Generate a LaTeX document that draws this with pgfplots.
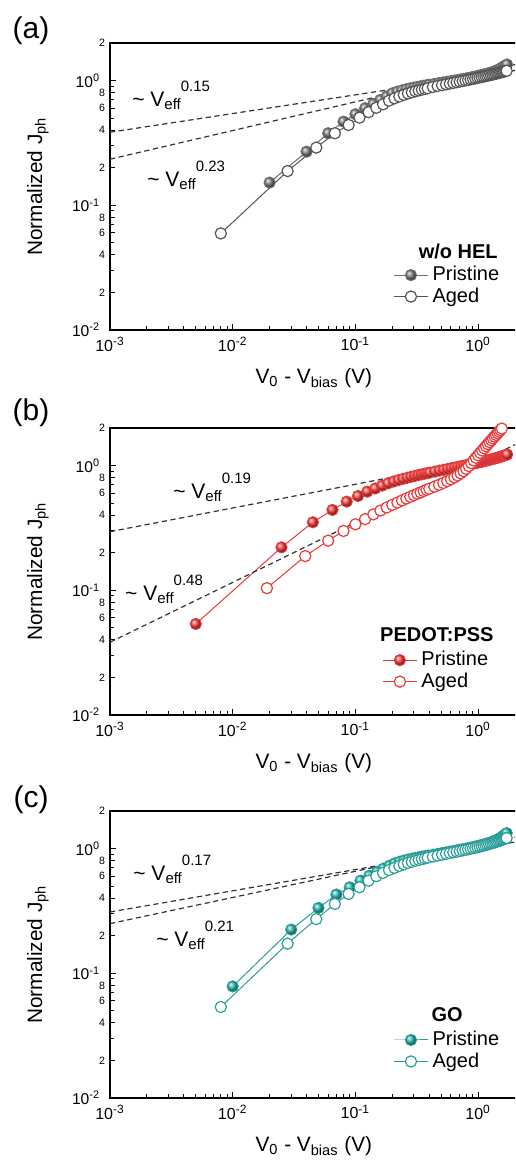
\documentclass[border=0pt]{standalone}
\usepackage{fontspec}
\setmainfont{Liberation Sans}
\usepackage{pgfplots}
\pgfplotsset{compat=1.18}

\definecolor{grayline}{HTML}{6E6E6E}
\definecolor{grayaged}{HTML}{555555}
\definecolor{redline}{HTML}{E83A3A}
\definecolor{redball}{HTML}{FF4040}
\definecolor{tealline}{HTML}{2A9E99}
\definecolor{tealball}{HTML}{33BDB5}
\definecolor{fitgray}{HTML}{333333}

% ~ V_eff^{n}, exponent set high after the subscript
\newcommand\veff[1]{\textasciitilde\ V\raisebox{-1.6pt}{\fontsize{7.5}{8}\selectfont eff}\raisebox{7.4pt}{\fontsize{7.5}{8}\selectfont #1}}

\pgfplotsset{every axis/.append style={
    scale only axis, width=205.06pt, height=143.5pt,
    anchor=north west,
    xmin=0.001, xmax=2.2, ymin=0.01, ymax=2,
    axis line style={line width=0.9pt},
    tick pos=left, tick align=inside,
    major tick length=3pt, minor tick length=1.8pt,
    every tick/.style={black, line width=0.5pt},
    xtick={0.001,0.01,0.1,1},
    xticklabels={10\textsuperscript{-3},10\textsuperscript{-2},10\textsuperscript{-1},10\textsuperscript{0}},
    minor xtick={0.002,0.003,0.004,0.005,0.006,0.007,0.008,0.009,
                 0.02,0.03,0.04,0.05,0.06,0.07,0.08,0.09,
                 0.2,0.3,0.4,0.5,0.6,0.7,0.8,0.9},
    ytick={0.01,0.1,1},
    yticklabels={10\textsuperscript{-2},10\textsuperscript{-1},10\textsuperscript{0}},
    minor ytick={0.03,0.05,0.07,0.09,0.3,0.5,0.7,0.9},
    extra y ticks={0.02,0.04,0.06,0.08,0.2,0.4,0.6,0.8,2},
    extra y tick labels={2,4,6,8,2,4,6,8,2},
    extra y tick style={major tick length=2.3pt,
      yticklabel style={font=\fontsize{5.3}{6}\selectfont, xshift=2.4pt}},
    xticklabel style={font=\fontsize{8}{9}\selectfont},
    yticklabel style={font=\fontsize{7.8}{9}\selectfont, xshift=-1.4pt},
    xlabel={V\textsubscript{0} - V\textsubscript{bias} (V)},
    ylabel={Normalized J\textsubscript{ph}},
    every axis x label/.style={at={(axis description cs:0.497,0)}, anchor=center,
      yshift=-24pt, font=\fontsize{10.4}{12}\selectfont},
    every axis y label/.style={at={(axis description cs:-0.176,0.5)}, anchor=center,
      rotate=90, font=\fontsize{10.4}{12}\selectfont},
    legend style={draw=none, fill=none, anchor=north west, inner sep=0pt,
      row sep=-2pt, font=\fontsize{10}{12}\selectfont},
    legend cell align=left,
}}

\begin{document}
\begin{tikzpicture}
\useasboundingbox (0,0) rectangle (257.5pt,-580.5pt);
\clip (0,0) rectangle (257.5pt,-580.5pt);

\node[font=\fontsize{15}{17}\selectfont] at (15.5pt,-15.5pt) {(a)};
\node[font=\fontsize{15}{17}\selectfont] at (15.5pt,-206.5pt) {(b)};
\node[font=\fontsize{15}{17}\selectfont] at (15.5pt,-400pt) {(c)};

% ---------------- (a) w/o HEL ----------------
\begin{loglogaxis}[at={(55pt,-21.5pt)},
  legend style={at={(axis description cs:0.690,0.237)}}]
\addplot[color=grayline, line width=0.5pt, mark=ball, mark size=2.8pt,
  mark options={ball color=gray}] table {
x y
0.02 0.152
0.04 0.269
0.06 0.378
0.08 0.468
0.10 0.537
0.12 0.600
0.14 0.650
0.16 0.700
0.18 0.745
0.20 0.790
0.22 0.815
0.24 0.835
0.26 0.852
0.28 0.866
0.30 0.878
0.32 0.889
0.34 0.899
0.36 0.908
0.38 0.917
0.40 0.925
0.44 0.940
0.48 0.954
0.52 0.967
0.56 0.979
0.60 0.990
0.64 1.000
0.68 1.010
0.72 1.020
0.76 1.030
0.80 1.040
0.84 1.050
0.88 1.060
0.92 1.070
0.96 1.080
1.00 1.090
1.04 1.100
1.08 1.110
1.12 1.120
1.16 1.130
1.20 1.140
1.24 1.150
1.28 1.160
1.32 1.172
1.36 1.185
1.40 1.198
1.44 1.212
1.48 1.228
1.52 1.245
1.56 1.265
1.60 1.285
1.64 1.305
1.68 1.325
1.72 1.345
};
\addlegendentry{Pristine}
\addplot[color=grayaged, line width=0.5pt, mark=*, mark size=2.8pt,
  mark options={fill=white, draw=grayaged, line width=0.6pt}] table {
x y
0.008 0.0595
0.028 0.188
0.048 0.290
0.068 0.378
0.088 0.440
0.108 0.504
0.128 0.558
0.148 0.605
0.168 0.645
0.188 0.690
0.208 0.720
0.228 0.745
0.248 0.768
0.268 0.788
0.288 0.805
0.308 0.820
0.328 0.833
0.348 0.845
0.368 0.856
0.388 0.866
0.428 0.888
0.468 0.904
0.508 0.919
0.548 0.932
0.588 0.945
0.628 0.957
0.668 0.969
0.708 0.980
0.748 0.991
0.788 1.001
0.828 1.011
0.868 1.021
0.908 1.031
0.948 1.041
0.988 1.050
1.028 1.059
1.068 1.068
1.108 1.077
1.148 1.085
1.188 1.093
1.228 1.101
1.268 1.109
1.308 1.117
1.348 1.125
1.388 1.133
1.428 1.141
1.468 1.149
1.508 1.157
1.548 1.165
1.588 1.173
1.628 1.181
1.668 1.189
1.708 1.197
};
\addlegendentry{Aged}
\addplot[fitgray, line width=0.6pt, dash pattern=on 2.6pt off 1.8pt, forget plot]
  coordinates {(0.001,0.385) (2.2,1.221)};
\addplot[fitgray, line width=0.6pt, dash pattern=on 2.6pt off 1.8pt, forget plot]
  coordinates {(0.001,0.234) (2.2,1.374)};
\node[anchor=base west, inner sep=0pt, font=\fontsize{10.5}{12}\selectfont]
  at (axis cs:0.00151,0.618) {\veff{0.15}};
\node[anchor=base west, inner sep=0pt, font=\fontsize{10.5}{12}\selectfont]
  at (axis cs:0.0020,0.141) {\veff{0.23}};
\node[font=\fontsize{10}{12}\selectfont\bfseries]
  at (axis description cs:0.849,0.272) {w/o HEL};
\end{loglogaxis}

% ---------------- (b) PEDOT:PSS ----------------
\begin{loglogaxis}[at={(55pt,-214pt)},
  legend style={at={(axis description cs:0.663,0.237)}}]
\addplot[color=redline, line width=0.5pt, mark=ball, mark size=2.8pt,
  mark options={ball color=redball}] table {
x y
0.005 0.0537
0.025 0.221
0.045 0.351
0.065 0.441
0.085 0.514
0.105 0.570
0.125 0.618
0.145 0.655
0.165 0.690
0.185 0.720
0.205 0.745
0.225 0.765
0.245 0.783
0.265 0.799
0.285 0.813
0.305 0.826
0.325 0.838
0.345 0.849
0.365 0.859
0.385 0.869
0.405 0.878
0.445 0.895
0.485 0.911
0.525 0.925
0.565 0.939
0.605 0.952
0.645 0.964
0.685 0.976
0.725 0.987
0.765 0.998
0.805 1.009
0.845 1.019
0.885 1.029
0.925 1.039
0.965 1.049
1.005 1.058
1.045 1.068
1.085 1.077
1.125 1.086
1.165 1.095
1.205 1.104
1.245 1.113
1.285 1.122
1.325 1.131
1.365 1.140
1.405 1.149
1.445 1.158
1.485 1.167
1.525 1.176
1.565 1.186
1.605 1.196
1.645 1.206
1.685 1.216
1.725 1.226
};
\addlegendentry{Pristine}
\addplot[color=redline, line width=0.5pt, mark=*, mark size=2.8pt,
  mark options={fill=white, draw=redline, line width=0.6pt}] table {
x y
0.019 0.104
0.039 0.188
0.060 0.250
0.080 0.299
0.100 0.338
0.120 0.372
0.140 0.406
0.160 0.436
0.180 0.461
0.200 0.484
0.220 0.505
0.240 0.525
0.260 0.544
0.280 0.562
0.300 0.579
0.320 0.595
0.340 0.610
0.360 0.625
0.380 0.639
0.400 0.652
0.440 0.677
0.480 0.701
0.520 0.725
0.560 0.750
0.600 0.776
0.640 0.803
0.680 0.833
0.720 0.866
0.760 0.902
0.800 0.942
0.840 0.990
0.880 1.045
0.920 1.100
0.960 1.155
1.000 1.210
1.040 1.265
1.080 1.320
1.120 1.375
1.160 1.430
1.200 1.485
1.240 1.540
1.280 1.595
1.320 1.650
1.360 1.705
1.400 1.760
1.440 1.815
1.480 1.870
1.520 1.925
1.560 1.980
};
\addlegendentry{Aged}
\addplot[fitgray, line width=0.6pt, dash pattern=on 2.6pt off 1.8pt, forget plot]
  coordinates {(0.001,0.295) (2.2,1.273)};
\addplot[fitgray, line width=0.6pt, dash pattern=on 2.6pt off 1.8pt, forget plot]
  coordinates {(0.001,0.0383) (2.2,1.54)};
\node[anchor=base west, inner sep=0pt, font=\fontsize{10.5}{12}\selectfont]
  at (axis cs:0.00326,0.547) {\veff{0.19}};
\node[anchor=base west, inner sep=0pt, font=\fontsize{10.5}{12}\selectfont]
  at (axis cs:0.00132,0.0835) {\veff{0.48}};
\node[font=\fontsize{10}{12}\selectfont\bfseries]
  at (axis description cs:0.797,0.279) {PEDOT:PSS};
\end{loglogaxis}

% ---------------- (c) GO ----------------
\begin{loglogaxis}[at={(55pt,-405.5pt)},
  legend style={at={(axis description cs:0.690,0.248)}}]
\addplot[color=tealline, line width=0.5pt, mark=ball, mark size=2.8pt,
  mark options={ball color=tealball}] table {
x y
0.01 0.0785
0.03 0.224
0.05 0.334
0.07 0.428
0.09 0.489
0.11 0.553
0.13 0.605
0.15 0.650
0.17 0.692
0.19 0.730
0.21 0.762
0.23 0.785
0.25 0.803
0.27 0.818
0.29 0.831
0.31 0.843
0.33 0.853
0.35 0.862
0.37 0.871
0.39 0.879
0.43 0.894
0.47 0.908
0.51 0.921
0.55 0.933
0.59 0.945
0.63 0.956
0.67 0.967
0.71 0.977
0.75 0.987
0.79 0.997
0.83 1.007
0.87 1.017
0.91 1.027
0.95 1.037
0.99 1.047
1.03 1.057
1.07 1.067
1.11 1.077
1.15 1.088
1.19 1.099
1.23 1.110
1.27 1.122
1.31 1.135
1.35 1.148
1.39 1.162
1.43 1.177
1.47 1.193
1.51 1.210
1.55 1.230
1.59 1.255
1.63 1.280
1.67 1.305
1.71 1.330
};
\addlegendentry{Pristine}
\addplot[color=tealline, line width=0.5pt, mark=*, mark size=2.8pt,
  mark options={fill=white, draw=tealline, line width=0.6pt}] table {
x y
0.008 0.0537
0.028 0.173
0.048 0.272
0.068 0.360
0.088 0.433
0.108 0.489
0.128 0.553
0.148 0.600
0.168 0.637
0.188 0.672
0.208 0.700
0.228 0.725
0.248 0.747
0.268 0.766
0.288 0.783
0.308 0.798
0.328 0.811
0.348 0.823
0.368 0.834
0.388 0.844
0.428 0.862
0.468 0.878
0.508 0.893
0.548 0.907
0.588 0.920
0.628 0.932
0.668 0.944
0.708 0.955
0.748 0.966
0.788 0.977
0.828 0.987
0.868 0.997
0.908 1.007
0.948 1.017
0.988 1.027
1.028 1.037
1.068 1.047
1.108 1.057
1.148 1.067
1.188 1.077
1.228 1.087
1.268 1.097
1.308 1.107
1.348 1.117
1.388 1.127
1.428 1.137
1.468 1.148
1.508 1.159
1.548 1.170
1.588 1.181
1.628 1.192
1.668 1.203
1.708 1.214
};
\addlegendentry{Aged}
\addplot[fitgray, line width=0.6pt, dash pattern=on 2.6pt off 1.8pt, forget plot]
  coordinates {(0.001,0.31) (2.2,1.147)};
\addplot[fitgray, line width=0.6pt, dash pattern=on 2.6pt off 1.8pt, forget plot]
  coordinates {(0.001,0.25) (2.2,1.258)};
\node[anchor=base west, inner sep=0pt, font=\fontsize{10.5}{12}\selectfont]
  at (axis cs:0.00154,0.553) {\veff{0.17}};
\node[anchor=base west, inner sep=0pt, font=\fontsize{10.5}{12}\selectfont]
  at (axis cs:0.00237,0.164) {\veff{0.21}};
\node[font=\fontsize{10}{12}\selectfont\bfseries]
  at (axis description cs:0.822,0.290) {GO};
\end{loglogaxis}
\end{tikzpicture}
\end{document}
